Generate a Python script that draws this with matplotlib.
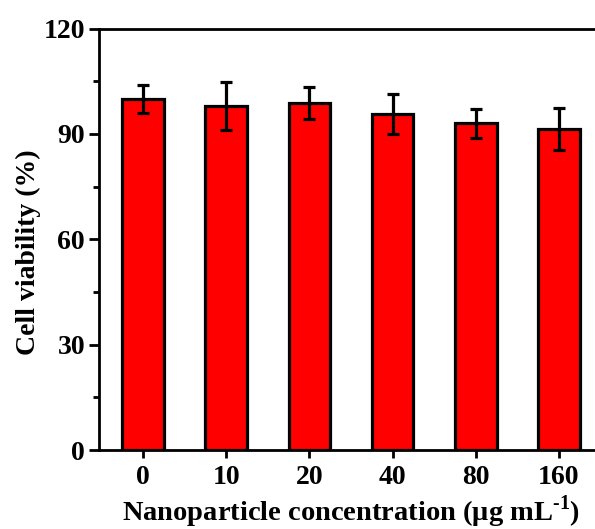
import numpy as np
import matplotlib.pyplot as plt
from matplotlib.ticker import MultipleLocator

concentrations = ['0', '10', '20', '40', '80', '160']
viability = [99.9, 98.0, 98.7, 95.7, 93.0, 91.4]
viability_err = [4.0, 6.8, 4.6, 5.6, 4.2, 6.0]

plt.rcParams['font.family'] = ['Liberation Serif', 'DejaVu Serif']
plt.rcParams['font.weight'] = 'bold'
plt.rcParams['mathtext.fontset'] = 'custom'
plt.rcParams['mathtext.rm'] = 'Liberation Serif:bold'
plt.rcParams['mathtext.bf'] = 'Liberation Serif:bold'

fig = plt.figure(figsize=(5.95, 5.29), dpi=100)
ax = fig.add_axes([99/595, 1 - 450/529, 504/595, 421.5/529])

x = np.arange(len(concentrations))
ax.bar(x, viability, width=0.5, color='#ff0000', edgecolor='black', linewidth=2.3, zorder=2)
ax.errorbar(x, viability, yerr=viability_err, fmt='none', ecolor='black',
            elinewidth=2.3, capsize=4, capthick=2.3, zorder=3)

ax.set_xlim(-0.53, 5.53)
ax.set_ylim(0, 120)
ax.set_xticks(x)
ax.set_xticklabels(concentrations)
ax.yaxis.set_major_locator(MultipleLocator(30))
ax.yaxis.set_minor_locator(MultipleLocator(15))

for s in ax.spines.values():
    s.set_linewidth(2)
ax.tick_params(axis='both', which='major', direction='out', length=6, width=2, labelsize=20)
ax.tick_params(axis='y', which='minor', direction='out', length=4, width=2)
ax.tick_params(axis='y', which='major', length=7, pad=3)
ax.tick_params(axis='x', pad=5)

ax.set_ylabel('Cell viability (%)', fontsize=20, fontweight='bold')
ax.yaxis.set_label_coords(-0.115, 0.47)
ax.set_xlabel('Nanoparticle concentration ($\\mathregular{\\mu}$g mL$^{\\mathregular{\u2010}1}$)',
              fontsize=20.5, fontweight='bold', labelpad=2)

fig.savefig('out.png', dpi=100)
